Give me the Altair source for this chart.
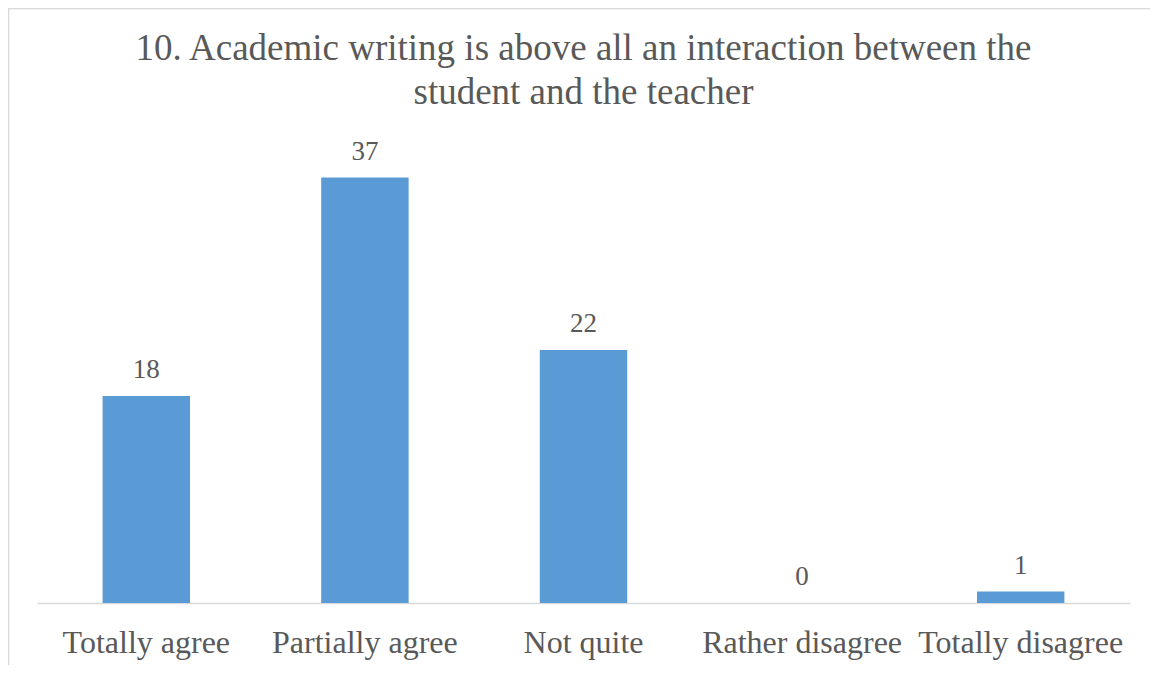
import altair as alt
import pandas as pd

categories = ["Totally agree", "Partially agree", "Not quite", "Rather disagree", "Totally disagree"]
counts = [18, 37, 22, 0, 1]
title_lines = ["10. Academic writing is above all an interaction between the",
               "student and the teacher"]

df = pd.DataFrame({"cat": categories, "v": counts})

TEXT = "#595959"
FONT = "Liberation Serif"

x_enc = alt.X("cat:N", sort=categories,
              scale=alt.Scale(paddingInner=0.6, paddingOuter=0.3),
              axis=alt.Axis(title=None, labelAngle=0, labelFont=FONT, labelFontSize=32,
                            labelColor=TEXT, domainColor="#D9D9D9", domainWidth=1.5,
                            ticks=False, tickSize=0, labelPadding=49,
                            labelBaseline="alphabetic", labelOverlap=False, labelLimit=0,
                            grid=False))
y_enc = alt.Y("v:Q", scale=alt.Scale(domain=[0, 40]), axis=None)

base = alt.Chart(df)
bars = base.mark_bar(color="#5B9BD5").encode(x=x_enc, y=y_enc)
labels = base.mark_text(dy=-18, baseline="alphabetic", font=FONT, fontSize=27,
                        color=TEXT).encode(x=x_enc, y=y_enc, text="v:Q")

border = alt.Chart(pd.DataFrame({"a": [0]})).mark_rect(
    fill=None, stroke="#D9D9D9", strokeWidth=1.5
).encode(x=alt.value(-28.5), x2=alt.value(1140), y=alt.value(-134.5), y2=alt.value(560))

chart = alt.layer(border, bars, labels).properties(
    width=1093, height=460,
    background="white",
    title=alt.TitleParams(text=title_lines, font=FONT, fontSize=37, fontWeight="normal",
                          color=TEXT, anchor="middle", lineHeight=44, offset=0, dy=104),
    padding={"left": 29, "top": 135, "right": 20, "bottom": 62},
    autosize=alt.AutoSizeParams(type="none"),
).configure_view(stroke=None, strokeWidth=0)

chart.save("out.html", embed_options={"renderer": "svg", "actions": False})
